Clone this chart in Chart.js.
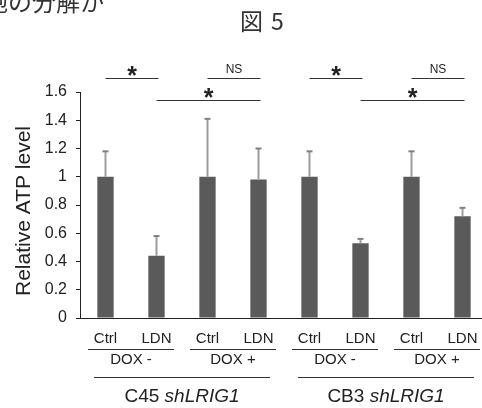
<!DOCTYPE html>
<html>
<head>
<meta charset="utf-8">
<script src="https://cdn.jsdelivr.net/npm/chart.js@4.4.1/dist/chart.umd.min.js"></script>
<style>
  html, body { margin: 0; padding: 0; background: #fff; overflow: hidden; }
  #wrap { width: 482px; height: 408px; overflow: hidden; }
  canvas { display: block; }
</style>
</head>
<body>
<div id="wrap"><canvas id="atpChart" width="490" height="408"></canvas></div>
<script>
const treatments = ['Ctrl', 'LDN', 'Ctrl', 'LDN', 'Ctrl', 'LDN', 'Ctrl', 'LDN'];
const doxGroups = ['DOX -', 'DOX +', 'DOX -', 'DOX +'];
const cellLines = ['C45', 'CB3'];
const atpLevel = [1.0, 0.44, 1.0, 0.98, 1.0, 0.53, 1.0, 0.72];
const atpError = [0.18, 0.14, 0.41, 0.22, 0.18, 0.03, 0.18, 0.06];
const yTickLabels = ['0', '0.2', '0.4', '0.6', '0.8', '1', '1.2', '1.4', '1.6'];

// significance brackets between bars
const sigFrom = [0, 2, 4, 6, 1, 5];
const sigTo = [1, 3, 5, 7, 3, 7];
const sigMark = ['*', 'NS', '*', 'NS', '*', '*'];
const sigRow = [0, 0, 0, 0, 1, 1];

const SANS = '"Liberation Sans", Arial, sans-serif';
const CJK = '"Noto Sans CJK JP", sans-serif';
const INK = '#222';

function hline(ctx, x1, x2, y) {
  ctx.beginPath();
  ctx.moveTo(x1, Math.round(y) + 0.5);
  ctx.lineTo(x2, Math.round(y) + 0.5);
  ctx.stroke();
}

// draw text so that its ink is centred on cy
function inkText(ctx, txt, cx, cy) {
  const m = ctx.measureText(txt);
  const base = cy + (m.actualBoundingBoxAscent - m.actualBoundingBoxDescent) / 2;
  ctx.fillText(txt, cx, base);
}

const annotate = {
  id: 'annotate',
  afterDraw(chart) {
    const ctx = chart.ctx;
    const y = chart.scales.y;
    const area = chart.chartArea;
    const bars = chart.getDatasetMeta(0).data;
    ctx.save();

    // error bars (upper only)
    bars.forEach((b, i) => {
      const top = y.getPixelForValue(atpLevel[i] + atpError[i]);
      ctx.lineWidth = 2;
      ctx.strokeStyle = '#9c9c9c';
      ctx.beginPath();
      ctx.moveTo(b.x, b.y);
      ctx.lineTo(b.x, top);
      ctx.stroke();
      ctx.strokeStyle = '#808080';
      ctx.beginPath();
      ctx.moveTo(b.x - 3, top);
      ctx.lineTo(b.x + 3, top);
      ctx.stroke();
    });

    // significance brackets
    ctx.fillStyle = INK;
    ctx.strokeStyle = '#333';
    ctx.lineWidth = 1;
    ctx.textAlign = 'center';
    sigFrom.forEach((f, k) => {
      const x1 = bars[f].x, x2 = bars[sigTo[k]].x;
      const ly = sigRow[k] === 0 ? area.top - 14 : area.top + 8;
      hline(ctx, x1, x2 + 2, ly);
      if (sigMark[k] === '*') {
        ctx.font = 'bold 25px ' + SANS;
        inkText(ctx, '*', (x1 + x2) / 2 + 1, ly - 7);
      } else {
        ctx.font = '12px ' + SANS;
        inkText(ctx, sigMark[k], (x1 + x2) / 2 + 1, ly - 9.5);
      }
    });

    // category rows under the axis
    const b0 = area.bottom;
    ctx.font = '15px ' + SANS;
    bars.forEach((b, i) => inkText(ctx, treatments[i], b.x, b0 + 19.5));
    doxGroups.forEach((g, k) => {
      const cx = (bars[2 * k].x + bars[2 * k + 1].x) / 2;
      hline(ctx, cx - 43, cx + 43, b0 + 31);
      inkText(ctx, g, cx, b0 + 40.5);
    });
    cellLines.forEach((c, k) => {
      const cx = (bars[4 * k].x + bars[4 * k + 3].x) / 2;
      hline(ctx, cx - 88, cx + 88, b0 + 58.5);
      ctx.font = '19px ' + SANS;
      const w1 = ctx.measureText(c + ' ').width;
      ctx.font = 'italic 19px ' + SANS;
      const w2 = ctx.measureText('shLRIG1').width;
      const left = cx - (w1 + w2) / 2;
      ctx.textAlign = 'left';
      ctx.font = '19px ' + SANS;
      inkText(ctx, c + ' ', left, b0 + 77.5);
      ctx.font = 'italic 19px ' + SANS;
      inkText(ctx, 'shLRIG1', left + w1, b0 + 77.5);
      ctx.textAlign = 'center';
    });

    // y axis title
    ctx.save();
    ctx.translate(22, 211);
    ctx.rotate(-Math.PI / 2);
    ctx.font = '21px ' + SANS;
    inkText(ctx, 'Relative ATP level', 0, 0);
    ctx.restore();

    // figure caption and page text above
    ctx.font = '23px ' + CJK;
    ctx.textAlign = 'left';
    ctx.fillStyle = '#333';
    ctx.fillText('図', 240, 30);
    ctx.fillText('5', 271, 30);
    ctx.font = '24px ' + CJK;
    ctx.fillText('胞の分解か', -16, 11);
    ctx.restore();
  }
};

new Chart(document.getElementById('atpChart'), {
  type: 'bar',
  data: {
    labels: treatments,
    datasets: [{
      data: atpLevel,
      backgroundColor: '#5a5a5a',
      barPercentage: 0.32,
      categoryPercentage: 1
    }]
  },
  options: {
    responsive: false,
    animation: false,
    layout: { padding: { top: 92, bottom: 90, left: 0, right: 2 } },
    plugins: { legend: { display: false }, tooltip: { enabled: false } },
    scales: {
      x: {
        grid: { display: false, drawTicks: false },
        border: { display: true, color: INK, width: 1 },
        ticks: { display: false },
        afterFit: s => { s.height = 0; }
      },
      y: {
        min: 0,
        max: 1.6,
        ticks: {
          stepSize: 0.2,
          callback: (v, i) => yTickLabels[i],
          color: INK,
          padding: 9,
          font: { family: SANS, size: 16 }
        },
        grid: { display: true, drawOnChartArea: false, drawTicks: true, tickLength: 4, color: INK },
        border: { display: true, color: INK, width: 1 },
        afterFit: s => { s.width = 80; }
      }
    }
  },
  plugins: [annotate]
});
</script>
</body>
</html>
